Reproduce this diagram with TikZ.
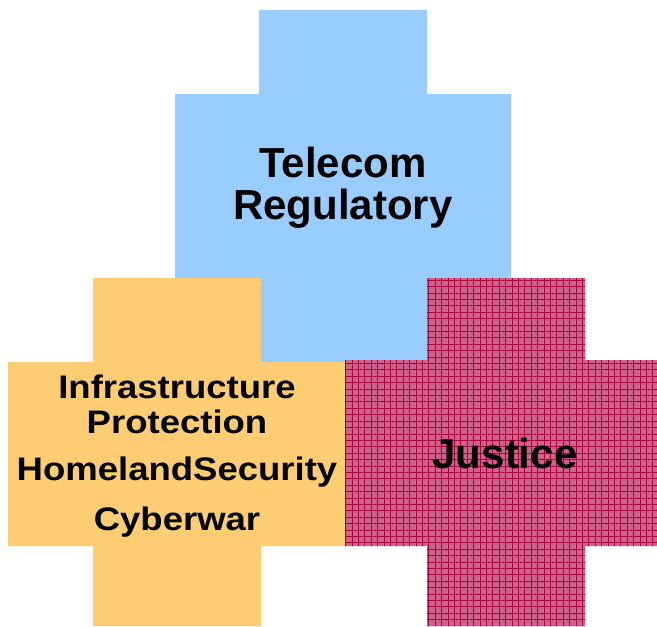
\documentclass[tikz,border=0pt]{standalone}
\usepackage{fontspec}
\setmainfont{Liberation Sans}
\usepackage{tikz}
\usetikzlibrary{patterns.meta}
\definecolor{telecomblue}{RGB}{153,204,255}
\definecolor{infraorange}{RGB}{253,204,115}
\definecolor{justicepink}{RGB}{208,96,140}
\definecolor{justicedark}{RGB}{168,0,60}

\begin{document}
\begin{tikzpicture}[
        x=0.5pt, y=-0.5pt,
        bigtext/.style={inner sep=0pt, anchor=base, font=\bfseries\fontsize{21}{19}\selectfont},
        smalltext/.style={inner sep=0pt, anchor=base, xscale=1.12, font=\bfseries\fontsize{16.3}{17.5}\selectfont},
        gridlines/.style={pattern color=justicedark, pattern={Lines[angle=#1, distance=3.2pt, line width=0.5pt]}}
    ]
        \useasboundingbox (0,0) rectangle (657,626);

        % telecom cross
        \fill[telecomblue] (259,10) -- (427,10) -- (427,94) -- (511,94) -- (511,278) -- (427,278)
            -- (427,362) -- (259,362) -- (259,278) -- (175,278) -- (175,94) -- (259,94) -- cycle;

        % infrastructure cross
        \fill[infraorange] (93,278) -- (261,278) -- (261,362) -- (345,362) -- (345,546) -- (261,546)
            -- (261,626) -- (93,626) -- (93,546) -- (8,546) -- (8,362) -- (93,362) -- cycle;

        % justice cross
        \fill[justicepink, postaction={gridlines=0}, postaction={gridlines=90}]
            (427,278) -- (585,278) -- (585,360) -- (657,360) -- (657,546) -- (585,546)
            -- (585,626) -- (427,626) -- (427,546) -- (345,546) -- (345,360) -- (427,360) -- cycle;

        \node[bigtext] (telecom) at (343,177) {Telecom};
        \node[bigtext] (regulatory) at (343,219) {Regulatory};
        \node[bigtext] (justice) at (505,468) {Justice};

        \node[smalltext] (infra) at (177,398) {Infrastructure};
        \node[smalltext] (protection) at (177,433) {Protection};
        \node[smalltext] (homeland) at (177,480) {HomelandSecurity};
        \node[smalltext] (cyberwar) at (177,530) {Cyberwar};
    \end{tikzpicture}
\end{document}
